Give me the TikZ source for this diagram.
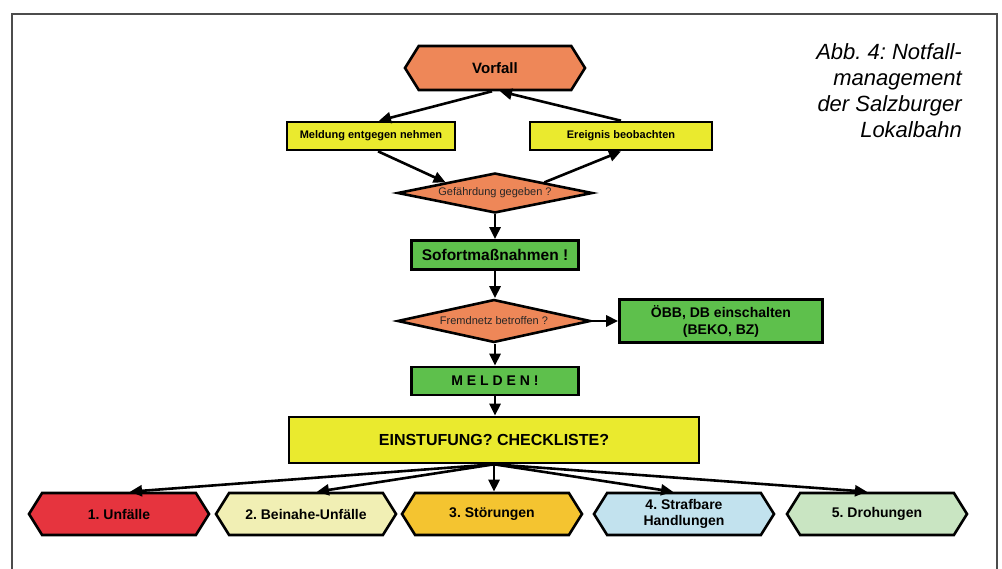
\documentclass[tikz,border=0pt]{standalone}
\usepackage{fontspec}
\setmainfont{Liberation Sans}
\usepackage{tikz}
\usetikzlibrary{arrows.meta,shapes.geometric,shapes.symbols}
\definecolor{floworange}{HTML}{EE8758}
\definecolor{flowyellow}{HTML}{EAEA2E}
\definecolor{flowgreen}{HTML}{5EC04C}
\definecolor{flowred}{HTML}{E6343E}
\definecolor{flowpale}{HTML}{F1EFB4}
\definecolor{flowgold}{HTML}{F4C430}
\definecolor{flowblue}{HTML}{C2E2EE}
\definecolor{flowmint}{HTML}{C9E5C2}
\tikzset{
  flowbox/.style={draw=black,line width=2.6pt,rectangle,inner sep=0pt,align=center,font=\bfseries},
  flowhex/.style={draw=black,line width=2.6pt,signal,signal to=east and west,signal pointer angle=116,
    minimum width=180pt,minimum height=42pt,inner sep=0pt,align=center,font=\bfseries\fontsize{14}{16}\selectfont},
  flowdec/.style={draw=black,line width=2.6pt,diamond,aspect=4.9,inner sep=0pt,fill=floworange,
    text=black!85,font=\fontsize{11}{13}\selectfont},
  flowarr/.style={line width=2.6pt,-{Triangle[length=12pt,width=11pt]}}
}

\begin{document}
\frenchspacing
\begin{tikzpicture}[x=1pt,y=-1pt]
  \useasboundingbox (0,0) rectangle (1002,569);
  \draw[black!70,line width=1.8pt] (12,569)--(12,14)--(997,14)--(997,569);
  \node[anchor=north east,inner sep=0pt,align=right,font=\itshape\fontsize{22}{26}\selectfont] (caption) at (962,43)
    {Abb. 4: Notfall-\\management\\der Salzburger\\Lokalbahn};
  % upper part
  \node[flowhex,fill=floworange,minimum height=44pt,font=\bfseries\fontsize{15}{17}\selectfont] (vorfall) at (495,68) {Vorfall};
  \node[flowbox,fill=flowyellow,minimum width=168pt,minimum height=28pt,font=\bfseries\fontsize{11}{13}\selectfont] (meldung) at (371,136) {Meldung entgegen nehmen};
  \node[flowbox,fill=flowyellow,minimum width=182pt,minimum height=28pt,font=\bfseries\fontsize{11}{13}\selectfont] (ereignis) at (621,136) {Ereignis beobachten};
  \node[flowdec,minimum width=195pt,minimum height=40pt] (gefahr) at (495,193) {Gefährdung gegeben ?};
  \node[flowbox,fill=flowgreen,minimum width=167pt,minimum height=29pt,font=\bfseries\fontsize{15.5}{17}\selectfont] (sofort) at (495,255) {Sofortmaßnahmen !};
  \node[flowdec,minimum width=193pt,minimum height=43pt] (fremd) at (494,321) {Fremdnetz betroffen ?};
  \node[flowbox,fill=flowgreen,minimum width=203pt,minimum height=43pt,font=\bfseries\fontsize{14}{17}\selectfont] (oebb) at (721,321) {ÖBB, DB einschalten\\(BEKO, BZ)};
  \node[flowbox,fill=flowgreen,minimum width=167pt,minimum height=28pt,font=\bfseries\fontsize{14}{16}\selectfont] (melden) at (495,381) {M E L D E N !};
  \node[flowbox,fill=flowyellow,minimum width=410pt,minimum height=46pt,font=\bfseries\fontsize{16}{18}\selectfont] (einst) at (494,440) {EINSTUFUNG? CHECKLISTE?};
  % categories
  \node[flowhex,fill=flowred] (u1) at (119,514) {1. Unfälle};
  \node[flowhex,fill=flowpale] (u2) at (306,514) {2. Beinahe-Unfälle};
  \node[flowhex,fill=flowgold] (u3) at (492,514) {3. Störungen};
  \node[flowhex,fill=flowblue] (u4) at (684,514) {4. Strafbare\\Handlungen};
  \node[flowhex,fill=flowmint] (u5) at (877,514) {5. Drohungen};
  % arrows
  \draw[flowarr] ([xshift=-3pt]vorfall.south) -- ([xshift=8pt]meldung.north);
  \draw[flowarr] (ereignis.north) -- ([xshift=5pt]vorfall.south);
  \draw[flowarr] ([xshift=7pt]meldung.south) -- (gefahr.north west);
  \draw[flowarr] (gefahr.north east) -- (ereignis.south);
  \draw[flowarr] (gefahr.south) -- (sofort.north);
  \draw[flowarr] (sofort.south) -- (sofort.south |- fremd.north);
  \draw[flowarr] (fremd.east) -- (oebb.west);
  \draw[flowarr] (sofort.south |- fremd.south) -- (melden.north);
  \draw[flowarr] (melden.south) -- (melden.south |- einst.north);
  \draw[flowarr] (einst.south) -- ([xshift=11pt]u1.north);
  \draw[flowarr] (einst.south) -- ([xshift=11pt]u2.north);
  \draw[flowarr] (einst.south) -- (einst.south |- u3.north);
  \draw[flowarr] (einst.south) -- ([xshift=-11pt]u4.north);
  \draw[flowarr] (einst.south) -- ([xshift=-10pt]u5.north);
\end{tikzpicture}
\end{document}
